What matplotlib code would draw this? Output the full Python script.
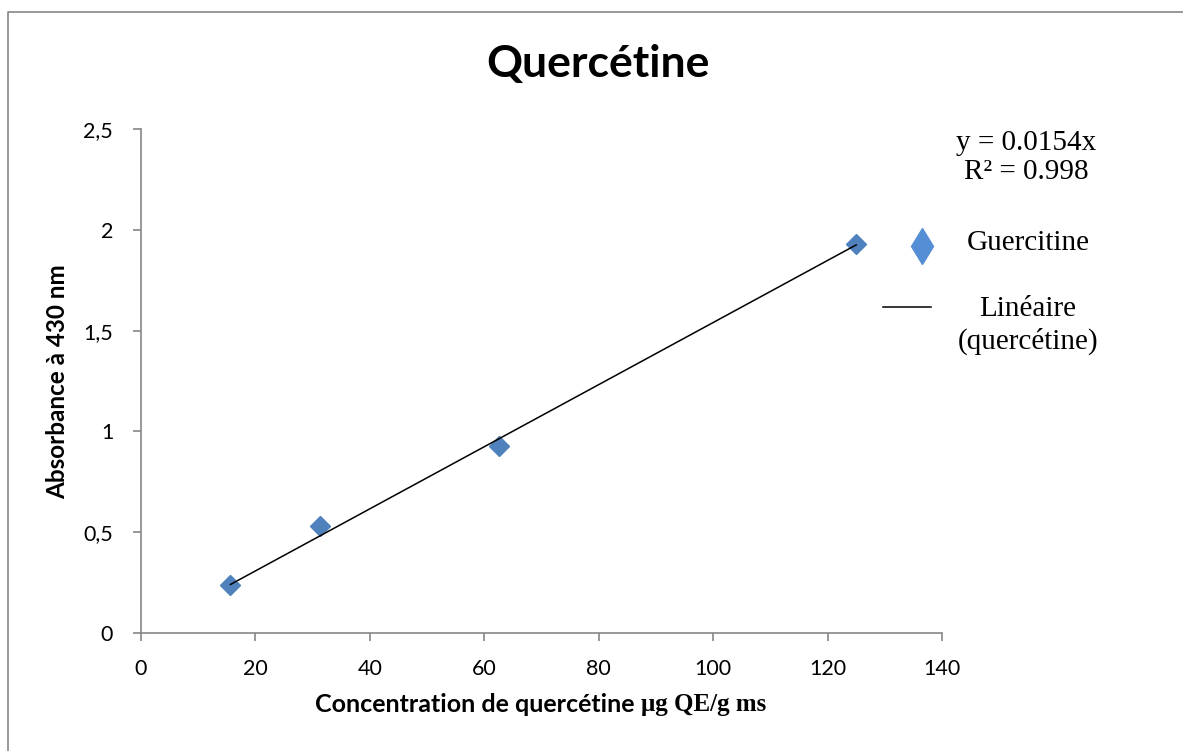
import numpy as np
import matplotlib
matplotlib.use("Agg")
import matplotlib.pyplot as plt
from matplotlib.lines import Line2D
from matplotlib.ticker import FuncFormatter

# données
conc = [15.625, 31.25, 62.5, 125]          # µg QE/g ms
absorb = [0.24, 0.53, 0.93, 1.93]          # absorbance à 430 nm
pente = 0.0154
r2 = 0.998

xticks = [0, 20, 40, 60, 80, 100, 120, 140]
yticks = [0, 0.5, 1, 1.5, 2, 2.5]

bleu = "#4F81BD"
gris = "#868686"
sans = "Lato"
serif = "Liberation Serif"

W, H = 1183, 751
fig = plt.figure(figsize=(W / 100, H / 100), dpi=100)
ax = fig.add_axes([141 / W, 1 - 633 / H, (942 - 141) / W, (633 - 129) / H])

# droite de tendance
xt = np.array([min(conc), max(conc)])
ax.plot(xt, pente * xt, color="black", lw=1.1, zorder=3)
ax.plot(conc, absorb, ls="none", marker="D", ms=10, color=bleu, mec=bleu, zorder=2)

ax.set_xlim(0, 140)
ax.set_ylim(0, 2.5)
ax.set_xticks(xticks)
ax.set_yticks(yticks)
ax.yaxis.set_major_formatter(FuncFormatter(lambda v, p: ("%g" % v).replace(".", ",")))
for s in ["top", "right"]:
    ax.spines[s].set_visible(False)
for s in ["left", "bottom"]:
    ax.spines[s].set_color(gris)
    ax.spines[s].set_linewidth(1.2)
ax.tick_params(axis="both", direction="out", length=6, width=1.2, color=gris,
               labelsize=15.5, labelfontfamily=sans)
ax.tick_params(axis="y", pad=14)
ax.tick_params(axis="x", pad=13)

# titre et axes
fig.text(598 / W, 1 - 64 / H, "Quercétine", ha="center", va="center",
         fontsize=32, fontweight="bold", family=sans)
fig.text(58 / W, 1 - 382 / H, "Absorbance à 430 nm", ha="center", va="center",
         rotation=90, fontsize=17.5, fontweight="bold", family=sans)
fig.text(641 / W, 1 - 705 / H, "Concentration de quercétine ", ha="right", va="center",
         fontsize=18, fontweight="bold", family=sans)
fig.text(641 / W, 1 - 705 / H, "μg QE/g ms", ha="left", va="center",
         fontsize=18, fontweight="bold", family=serif)

# équation et légende
fig.text(1026 / W, 1 - 143 / H, "y = 0.0154x", ha="center", va="center",
         fontsize=21, family=serif)
fig.text(1026 / W, 1 - 172 / H, "R² = %.3f" % r2, ha="center", va="center",
         fontsize=21, family=serif)
fig.add_artist(Line2D([922 / W], [1 - 246 / H], marker="d", ms=18, color="#558ED5",
                      mec="#558ED5", ls="none", transform=fig.transFigure))
fig.text(1028 / W, 1 - 243 / H, "Guercitine", ha="center", va="center",
         fontsize=21, family=serif)
fig.add_artist(Line2D([883 / W, 931 / W], [1 - 307 / H, 1 - 307 / H], color="black",
                      lw=1.1, transform=fig.transFigure))
fig.text(1028 / W, 1 - 309 / H, "Linéaire", ha="center", va="center",
         fontsize=21, family=serif)
fig.text(1028 / W, 1 - 341 / H, "(quercétine)", ha="center", va="center",
         fontsize=21, family=serif)

# cadre extérieur (gauche et haut)
fig.add_artist(Line2D([8 / W, 8 / W, 1], [0, 1 - 12 / H, 1 - 12 / H], color=gris,
                      lw=1.2, transform=fig.transFigure))

fig.savefig("out.png", dpi=100)
